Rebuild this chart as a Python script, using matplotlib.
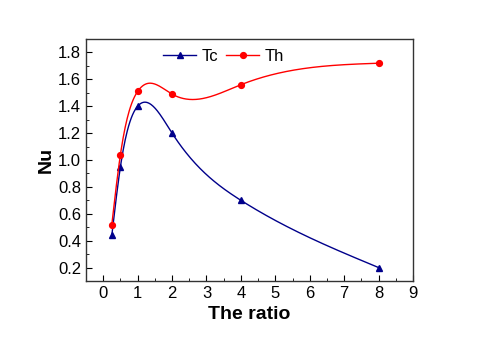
import numpy as np
import matplotlib.pyplot as plt
from matplotlib.ticker import MultipleLocator

# data
ratio = [0.25, 0.5, 1, 2, 4, 8]
tc = [0.44, 0.95, 1.40, 1.20, 0.70, 0.20]
th = [0.52, 1.04, 1.51, 1.49, 1.56, 1.72]


def natural_spline(x, y, n=400):
    # plain natural cubic spline for the smooth connecting lines
    x = np.asarray(x, float)
    y = np.asarray(y, float)
    k = len(x)
    h = np.diff(x)
    A = np.zeros((k, k))
    b = np.zeros(k)
    A[0, 0] = A[-1, -1] = 1
    for i in range(1, k - 1):
        A[i, i - 1] = h[i - 1]
        A[i, i] = 2 * (h[i - 1] + h[i])
        A[i, i + 1] = h[i]
        b[i] = 6 * ((y[i + 1] - y[i]) / h[i] - (y[i] - y[i - 1]) / h[i - 1])
    m = np.linalg.solve(A, b)
    xs = np.linspace(x[0], x[-1], n)
    idx = np.clip(np.searchsorted(x, xs) - 1, 0, k - 2)
    x0, x1 = x[idx], x[idx + 1]
    hh = x1 - x0
    t0, t1 = x1 - xs, xs - x0
    ys = (m[idx] * t0**3 + m[idx + 1] * t1**3) / (6 * hh) \
        + (y[idx] / hh - m[idx] * hh / 6) * t0 \
        + (y[idx + 1] / hh - m[idx + 1] * hh / 6) * t1
    return xs, ys


plt.rcParams['font.family'] = 'Liberation Sans'
fig = plt.figure(figsize=(4.8, 3.37), dpi=100)
ax = fig.add_axes([86 / 480, 1 - 281 / 337, 327 / 480, 242 / 337])

for vals, col, mk, ms, lab in [(tc, '#00008B', '^', 5, 'Tc'), (th, '#FF0000', 'o', 4.2, 'Th')]:
    xs, ys = natural_spline(ratio, vals)
    ax.plot(xs, ys, color=col, lw=1)
    ax.plot(ratio, vals, ls='none', marker=mk, color=col, ms=ms)
    ax.plot([], [], color=col, lw=1, marker=mk, ms=ms, label=lab)

ax.set_xlim(-0.5, 9)
ax.set_ylim(0.1, 1.9)
ax.xaxis.set_major_locator(MultipleLocator(1))
ax.xaxis.set_minor_locator(MultipleLocator(0.5))
ax.yaxis.set_minor_locator(MultipleLocator(0.1))
ax.set_yticks(np.arange(0.2, 1.81, 0.2))
ax.set_yticklabels([f'{v:.1f}' for v in np.arange(0.2, 1.81, 0.2)])
ax.tick_params(which='both', direction='in', top=False, right=False, labelsize=12)
ax.tick_params(which='major', length=4)
ax.tick_params(which='minor', length=2)
for s in ax.spines.values():
    s.set_color('#333333')
    s.set_linewidth(1)

ax.set_xlabel('The ratio', fontsize=14, fontweight='bold')
ax.set_ylabel('Nu', fontsize=14, fontweight='bold', labelpad=2)
ax.legend(loc='upper center', ncol=2, frameon=False, fontsize=12,
          handlelength=2, columnspacing=0.5, handletextpad=0.3,
          bbox_to_anchor=(0.42, 1.0), borderaxespad=0.2)

fig.savefig('out.png', dpi=100)
